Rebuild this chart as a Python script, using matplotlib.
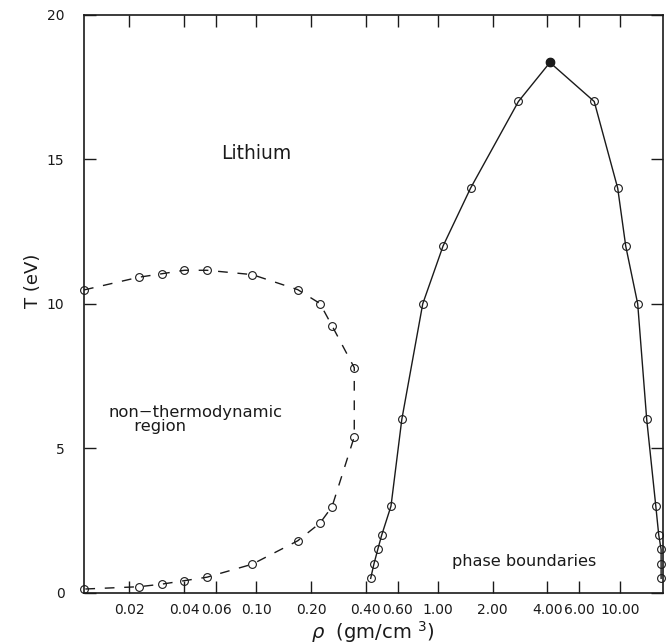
import matplotlib
matplotlib.use("Agg")
import matplotlib.pyplot as plt
from matplotlib.ticker import FixedLocator, FixedFormatter, NullLocator

plt.rcParams['font.family'] = ['DejaVu Sans']

# non-thermodynamic region (dashed loop)
rho_dashed = [0.01126, 0.0226, 0.0302, 0.0402, 0.0535, 0.095, 0.169, 0.224, 0.261, 0.346,
              0.346, 0.261, 0.224, 0.169, 0.095, 0.0535, 0.0402, 0.0302, 0.0226, 0.01126]
T_dashed = [10.48, 10.92, 11.04, 11.16, 11.16, 11.01, 10.49, 10.01, 9.24, 7.79,
            5.40, 2.98, 2.41, 1.80, 0.99, 0.54, 0.42, 0.30, 0.21, 0.13]

# phase boundary (solid)
rho_solid = [0.426, 0.444, 0.466, 0.49, 0.551, 0.632, 0.824, 1.066, 1.51, 2.77, 4.13,
             7.24, 9.75, 10.79, 12.56, 14.08, 15.8, 16.4, 16.9, 16.9, 16.9]
T_solid = [0.5, 1.0, 1.5, 2.0, 3.0, 6.0, 10.0, 12.0, 14.0, 17.0, 18.35,
           17.0, 14.0, 12.0, 10.0, 6.0, 3.0, 2.0, 1.5, 1.0, 0.5]

# critical point
rho_crit = 4.13
T_crit = 18.35

xticks = [0.02, 0.04, 0.06, 0.10, 0.20, 0.40, 0.60, 1.00, 2.00, 4.00, 6.00, 10.00]
xtick_labels = ['0.02', '0.04', '0.06', '0.10', '0.20', '0.40', '0.60', '1.00', '2.00',
                '4.00', '6.00', '10.00']
yticks = [0, 5, 10, 15, 20]

ink = '#1a1a1a'

fig = plt.figure(figsize=(6.68, 6.44), dpi=100)
ax = fig.add_axes([84 / 668, 1 - 592.8 / 644, (662.5 - 84) / 668, (592.8 - 14.8) / 644])

ax.plot(rho_dashed, T_dashed, color=ink, lw=1.0, dashes=(7, 7),
        marker='o', ms=5.6, mfc='none', mec=ink, mew=0.8, clip_on=False)
ax.plot(rho_solid, T_solid, color=ink, lw=1.0,
        marker='o', ms=5.6, mfc='none', mec=ink, mew=0.8, clip_on=False)
ax.plot([rho_crit], [T_crit], marker='o', ms=6, color=ink, ls='none')

ax.set_xscale('log')
ax.set_xlim(0.01126, 17.2)
ax.set_ylim(0, 20)

ax.xaxis.set_major_locator(FixedLocator(xticks))
ax.xaxis.set_major_formatter(FixedFormatter(xtick_labels))
ax.xaxis.set_minor_locator(NullLocator())
ax.set_yticks(yticks)

ax.tick_params(which='major', direction='in', length=8.6, width=1.0, color=ink,
               top=True, right=True, labelsize=10, labelcolor=ink)
ax.tick_params(axis='x', pad=7)
ax.tick_params(axis='y', pad=14)
for sp in ax.spines.values():
    sp.set_linewidth(1.2)
    sp.set_color(ink)

ax.set_xlabel(r'$\rho$  (gm/cm $^{3}$)', fontsize=14, color=ink, labelpad=2)
ax.set_ylabel('T (eV)', fontsize=13, color=ink)
ax.yaxis.set_label_coords(-0.072, 0.54)

ax.text(0.0995, 15.2, 'Lithium', fontsize=13.5, color=ink, ha='center', va='center')
ax.text(0.01527, 6.0, 'non\u2212thermodynamic\n     region', fontsize=11.8, color=ink,
        ha='left', va='center', linespacing=0.9)
ax.text(2.97, 1.1, 'phase boundaries', fontsize=11.6, color=ink, ha='center', va='center')

fig.savefig('out.png', dpi=100)
